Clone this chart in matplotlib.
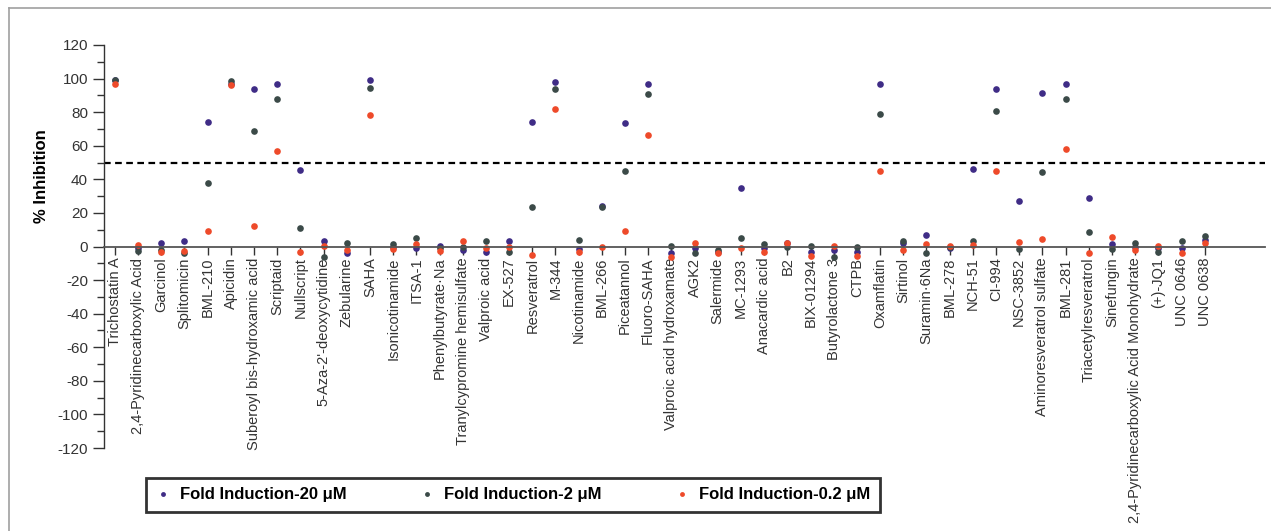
import matplotlib.pyplot as plt
from matplotlib.lines import Line2D
import numpy as np

plt.rcParams['font.family'] = ['Liberation Sans', 'DejaVu Sans']
plt.rcParams['axes.unicode_minus'] = False

compounds = [
    "Trichostatin A", "2,4-Pyridinecarboxylic Acid", "Garcinol", "Splitomicin",
    "BML-210", "Apicidin", "Suberoyl bis-hydroxamic acid", "Scriptaid",
    "Nullscript", "5-Aza-2'-deoxycytidine", "Zebularine", "SAHA",
    "Isonicotinamide", "ITSA-1", "Phenylbutyrate\u00b7Na", "Tranylcypromine hemisulfate",
    "Valproic acid", "EX-527", "Resveratrol", "M-344",
    "Nicotinamide", "BML-266", "Piceatannol", "Fluoro-SAHA",
    "Valproic acid hydroxamate", "AGK2", "Salermide", "MC-1293",
    "Anacardic acid", "B2", "BIX-01294", "Butyrolactone 3",
    "CTPB", "Oxamflatin", "Sirtinol", "Suramin\u00b76Na",
    "BML-278", "NCH-51", "CI-994", "NSC-3852",
    "Aminoresveratrol sulfate", "BML-281", "Triacetylresveratrol", "Sinefungin",
    "2,4-Pyridinecarboxylic Acid Monohydrate", "(+)-JQ1", "UNC 0646", "UNC 0638",
]

inh_20uM = [99, -1, 2, 3, 74, 97, 93.5, 97, 45.5, 3, -4, 99,
            0, -1, 0.5, -2, -3, 3, 74, 98, -1.5, 24, 73.5, 97,
            -4, -1, -3, 35, -1, 2, -3, -2, -3, 97, 2, 7,
            -1, 46, 94, 27, 91.5, 97, 29, 1.5, 0, -1, -1, 4]
inh_2uM = [99, -2.5, -2, -4, 38, 98.5, 69, 88, 11, -6, 2, 94.5,
           1.5, 5, -1, -0.5, 3.5, -3.5, 23.5, 94, 4, 23.5, 45, 91,
           0.5, -4, -2, 5, 1.5, -0.5, 0.5, -6, 0, 79, 3.5, -4,
           0, 3, 80.5, -1.5, 44.5, 88, 8.5, -1.5, 2, -3, 3.5, 6.5]
inh_02uM = [97, 1, -3.5, -2.5, 9, 96, 12, 57, -3, 0.5, -2, 78.5,
            -1.5, 1.5, -2.5, 3, -1, -0.5, -5, 82, -3.5, -0.5, 9, 66.5,
            -6, 2, -4, -1, -3, 2, -5.5, 0.5, -5.5, 45, -2, 1.5,
            0.5, 1, 45, 2.5, 4.5, 58, -4, 5.5, -2, 0.5, -4, 2]

series = [
    ("Fold Induction-20 \u03bcM", inh_20uM, "#3f2c86"),
    ("Fold Induction-2 \u03bcM", inh_2uM, "#3b4a48"),
    ("Fold Induction-0.2 \u03bcM", inh_02uM, "#ee4a2a"),
]

fig = plt.figure(figsize=(12.71, 5.31), dpi=100)
ax = fig.add_axes([104 / 1271, 83 / 531, 1161 / 1271, 403 / 531])

x = np.arange(len(compounds))
for name, vals, col in series:
    ax.plot(x, vals, 'o', color=col, markersize=4.8, markeredgewidth=0, label=name)

# threshold line
ax.axhline(50, color='black', linestyle=(0, (3, 2)), linewidth=1.6)

ax.set_xlim(-0.47, 49.6)
ax.set_ylim(-120, 120)
ax.spines['top'].set_visible(False)
ax.spines['right'].set_visible(False)
ax.spines['bottom'].set_position(('data', 0))
ax.spines['bottom'].set_color('#555555')
ax.spines['bottom'].set_linewidth(1.3)
ax.spines['left'].set_color('#333333')
ax.spines['left'].set_linewidth(1.0)

ax.set_xticks(x)
ax.set_xticklabels(compounds, rotation=90, va='top', ha='center', fontsize=10.5, color='#333333')
ax.tick_params(axis='x', direction='out', length=6, width=1, color='#333333', pad=2)

ax.set_yticks(np.arange(-120, 121, 20))
ax.set_yticks(np.arange(-110, 120, 20), minor=True)
ax.tick_params(axis='y', which='major', length=8, width=1, labelsize=11, labelcolor='#333333', color='#333333')
ax.tick_params(axis='y', which='minor', length=5, width=1, color='#333333')
ax.set_ylabel("% Inhibition", fontsize=12, fontweight='bold')
ax.yaxis.set_label_coords(-0.047, 0.675)

handles = [Line2D([], [], marker='o', linestyle='none', color=c, markersize=3.5, markeredgewidth=0)
           for _, _, c in series]
leg = fig.legend(handles, [s[0] for s in series], ncol=3, loc='center left',
                 bbox_to_anchor=(146 / 1271, 1 - 495 / 531), frameon=True, fancybox=False,
                 edgecolor='black', columnspacing=4.35, handletextpad=0.6, handlelength=0.9,
                 prop={'weight': 'bold', 'size': 12}, borderpad=0.55, borderaxespad=0)
leg.get_frame().set_linewidth(2)

# light border at top and left of the panel
fig.add_artist(Line2D([9 / 1271, 1], [1 - 8 / 531, 1 - 8 / 531], color='#a0a0a0', linewidth=1.2))
fig.add_artist(Line2D([9 / 1271, 9 / 1271], [0, 1 - 8 / 531], color='#a0a0a0', linewidth=1.2))

fig.savefig("out.png", dpi=100)
